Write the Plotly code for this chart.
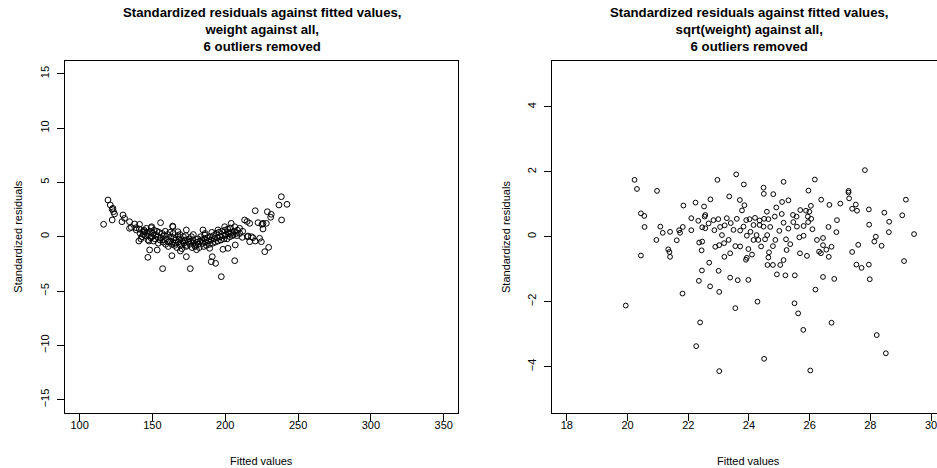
import plotly.graph_objects as go

W, H = 937, 468

# ---------------- data ----------------
left_fitted = [
    116.5, 119.5, 121.1, 122.4, 123.3, 124.0, 122.4, 122.9, 129.8, 130.9, 129.1, 134.3,
    137.8, 141.2, 134.3, 135.5, 138.9, 138.9, 141.0, 143.5, 144.6, 145.8, 149.2, 149.5,
    155.6, 163.9, 164.1, 167.5, 173.3, 140.7, 147.6, 148.1, 146.9, 153.3, 157.0, 163.4,
    169.2, 173.3, 176.0, 190.4, 193.4, 191.1, 197.3, 206.5, 198.4, 201.9, 206.9, 211.7,
    213.3, 215.0, 216.8, 220.6, 222.5, 225.9, 225.9, 228.9, 231.6, 231.2, 228.2, 238.5,
    236.9, 242.4, 238.7, 215.6, 219.0, 223.6, 224.8, 220.6, 227.1, 229.8, 204.1, 206.5,
    209.9, 199.6, 195.0, 184.7, 185.9, 215.2, 217.9, 216.8, 189.3, 225.2, 210.0, 212.0,
    208.0, 202.0, 200.0,
    141.6, 142.8, 142.1, 144.3, 143.7, 146.2, 145.4, 146.9, 148.5, 147.6, 148.9, 150.3, 149.6, 150.8, 151.2,
    152.4, 151.7, 153.1, 154.6, 153.8, 155.2, 154.1, 156.7, 155.9, 157.3, 158.2, 157.6, 159.1, 158.8,
    160.4, 159.7, 161.2, 160.9, 162.5, 161.8, 163.3, 162.1, 164.7, 163.9, 165.2, 164.3, 166.1, 165.6, 167.4, 166.8,
    168.3, 167.7, 169.1, 168.9, 170.6, 169.8, 171.3, 170.2, 172.4, 171.6, 173.1, 172.8, 174.5, 173.7, 175.2,
    176.3, 175.6, 177.2, 176.8, 178.4, 177.7, 179.3, 178.1, 180.6, 179.8, 181.2, 180.3, 182.7, 181.5, 183.1, 182.2,
    184.6, 183.8, 185.3, 186.4, 185.7, 187.1, 186.2, 188.5, 187.6, 189.2, 190.3, 189.7, 191.4, 190.8,
    192.5, 191.9, 193.3, 194.6, 193.8, 195.2, 196.4, 195.7, 197.1, 198.3, 197.6, 199.2, 200.5, 199.8, 201.3,
    202.6, 201.7, 203.2, 204.4, 203.6, 205.1, 206.3, 205.5, 208.4, 207.6,
]
left_resid = [
    1.14, 3.38, 2.92, 2.52, 2.30, 2.09, 1.54, 2.61, 2.00, 1.69, 1.38, 1.38,
    1.17, 1.14, 0.77, 0.85, 0.62, 0.83, 0.70, 0.46, 0.46, 0.77, 0.83, 0.92,
    1.29, 0.98, 0.92, 0.46, 0.62, -0.40, -0.40, -1.22, -1.90, -1.22, -2.94, -1.75,
    -1.32, -1.84, -2.94, -2.30, -2.45, -1.84, -3.68, -2.21, -1.16, -1.07, -0.76, -0.06,
    1.54, 1.40, 1.23, 2.39, 1.29, 1.23, 0.71, 2.30, 2.06, 1.79, 1.23, 3.68,
    2.92, 2.98, 1.54, 0.06, -0.09, -0.15, -0.46, -0.40, -1.38, -0.98, 1.23, 0.92,
    0.77, 0.92, 0.62, 0.62, 0.15, 0.00, 0.00, -0.46, -1.07, 1.14, 0.30, 0.50,
    0.10, 0.40, 0.10,
    0.3, 0.0, -0.2, 0.6, 0.2, 0.4, 0.1, -0.3, 0.5, 0.2, -0.1, 0.3, 0.0, -0.4, 0.6,
    0.2, -0.2, 0.5, 0.4, 0.0, -0.3, -0.6, 0.3, -0.1, -0.5, 0.1, -0.3, -0.7, 0.5,
    0.2, -0.2, -0.5, -0.9, 0.0, -0.4, -0.7, 0.4, -0.1, -0.5, -0.8, 0.3, -0.3, -0.6, 0.1, -1.0,
    -0.2, -0.5, -0.8, 0.2, -0.4, -0.7, 0.0, -1.1, -0.3, -0.6, -0.9, 0.1, -0.5, -0.8, -0.2,
    -0.4, -0.7, -1.0, 0.0, -0.6, -0.3, -0.9, 0.2, -0.5, -0.8, -0.2, -1.2, -0.4, -0.7, 0.0, -1.0,
    -0.6, -0.3, -0.9, -0.5, -0.2, -0.8, 0.3, -0.4, -0.1, -0.7, -0.3, 0.0, -0.6, 0.4,
    -0.2, 0.1, -0.5, -0.1, 0.3, -0.4, 0.0, 0.4, -0.3, 0.1, 0.5, -0.2, 0.2, 0.6, -0.2,
    0.3, 0.7, 0.0, 0.4, 0.8, 0.1, 0.5, 0.2, 0.6, 0.3,
]

right_fitted = [
    19.94, 20.23, 20.31, 20.97, 20.44, 20.55, 20.56, 20.44, 20.95, 21.08, 21.16, 21.40,
    21.62, 21.70, 21.73, 21.82, 21.84, 21.34, 21.38, 21.40, 22.10, 22.24, 22.33, 22.10,
    22.52, 22.73, 22.46, 22.54, 22.36, 22.46, 22.44, 22.69, 22.45, 22.96, 21.81, 22.35,
    22.72, 23.02, 22.39, 22.26, 23.02, 23.00, 23.38, 23.63, 23.98, 23.55, 24.28, 24.50,
    24.92, 25.20, 25.51, 25.50, 25.62, 25.79, 26.02, 26.19, 26.44, 26.81, 26.72, 27.71,
    27.98, 28.21, 28.51, 27.82, 23.58, 23.83, 25.14, 26.17, 24.48, 24.49, 24.80, 25.96,
    27.28, 27.28, 27.30, 23.35, 23.70, 23.85, 23.77, 25.09, 25.30, 26.38, 26.65, 27.01,
    27.40, 27.52, 27.56, 27.95, 28.46, 29.17, 29.05, 29.44, 28.62, 28.61, 28.18, 28.37,
    28.13, 27.96, 27.60, 27.40, 27.54, 27.95, 29.11, 26.90, 26.88, 26.62, 26.72, 26.55,
    26.63, 26.44, 26.44, 26.24, 26.09, 25.94, 25.99, 26.04, 25.88, 25.69, 25.57, 25.46,
    25.58, 25.80, 25.95, 26.05, 26.31, 26.37, 25.91, 25.68, 25.66, 25.80, 25.36, 25.22,
    25.24, 25.14, 25.03, 24.79, 24.64, 24.61, 24.66, 24.79, 24.87, 25.00, 25.14, 25.08,
    25.45, 24.85, 24.59, 24.64, 24.50, 24.35, 24.20, 24.02, 24.15, 24.35, 24.48, 23.91,
    23.82, 23.71, 23.93, 24.15, 24.31, 24.53, 23.98, 23.93, 23.90, 23.71, 23.55, 23.38,
    23.19, 23.49, 23.33, 23.18, 23.02, 22.89, 23.11, 23.27, 22.99, 22.83, 22.67, 22.56,
    22.56, 22.86, 23.05, 23.20, 24.05, 24.25, 24.40, 24.10, 23.40, 23.60, 24.70, 24.90,
    25.30, 24.60,
]
right_resid = [
    -2.12, 1.75, 1.47, 1.41, 0.72, 0.64, 0.30, -0.58, -0.10, 0.31, 0.12, 0.15,
    -0.11, 0.20, 0.12, 0.30, 0.96, -0.39, -0.47, -0.62, 0.20, 1.05, 0.49, 0.57,
    0.93, 1.15, 0.29, 0.62, -0.18, -0.15, -0.42, -0.80, -1.04, 1.75, -1.75, -1.36,
    -1.53, -1.70, -2.64, -3.37, -4.14, -1.05, -1.26, -1.34, -1.33, -2.20, -2.00, -3.76,
    -1.16, -1.19, -1.19, -2.05, -2.36, -2.87, -4.12, -1.63, -1.24, -1.30, -2.65, -0.96,
    -1.31, -3.03, -3.59, 2.05, 1.92, 1.61, 1.69, 1.76, 1.51, 1.32, 1.31, 1.42,
    1.41, 1.36, 1.18, 1.24, 1.13, 0.97, 0.81, 1.07, 1.12, 1.14, 0.98, 1.02,
    0.86, 0.99, 0.80, 0.84, 0.74, 1.14, 0.66, 0.08, 0.46, 0.14, 0.00, -0.28,
    -0.15, 0.37, -0.25, -0.47, -0.86, -0.86, -0.75, 0.51, 0.14, 0.30, -0.31, -0.40,
    -0.62, -0.04, -0.26, -0.10, 0.23, 0.62, 0.77, 0.95, 0.80, 0.82, 0.62, 0.45,
    0.31, 0.33, 0.45, 0.55, -0.46, -0.51, -0.59, -0.51, -0.02, 0.03, -0.23, -0.08,
    -0.41, -0.72, -0.87, -0.87, -0.64, -0.87, -0.48, -0.29, -0.10, 0.18, 0.43, 0.70,
    0.67, 0.62, 0.77, 0.54, 0.55, 0.50, 0.58, 0.54, 0.36, 0.36, 0.31, 0.51,
    0.31, 0.19, 0.03, -0.10, -0.10, -0.08, -0.38, -0.65, -0.71, -0.30, -0.29, -0.51,
    -0.62, 0.21, -0.10, -0.20, -0.26, -0.31, 0.05, 0.57, 0.54, 0.51, 0.41, 0.67,
    0.26, 0.20, 0.30, 0.35, 0.15, 0.05, -0.30, -0.55, 0.42, 0.55, 0.30, 0.90,
    0.25, 0.05,
]

left_xticks = [100, 150, 200, 250, 300, 350]
left_yticks = [-15, -10, -5, 0, 5, 10, 15]
right_xticks = [18, 20, 22, 24, 26, 28, 30]
right_yticks = [-4, -2, 0, 2, 4]

left_title = "Standardized residuals against fitted values,<br>weight against all,<br>6 outliers removed"
right_title = "Standardized residuals against fitted values,<br>sqrt(weight) against all,<br>6 outliers removed"
x_label = "Fitted values"
y_label = "Standardized residuals"

# ---------------- layout geometry (pixels) ----------------
L_X0, L_X1 = 65.0, 458.3
R_X0 = 552.3
Y_TOP, Y_BOT = 60.7, 412.7
R_PX_PER_UNIT = 30.35
R_XMIN = 17.52
R_XMAX = R_XMIN + (W - R_X0) / R_PX_PER_UNIT

def px(x):
    return x / W

def py(y):
    return 1 - y / H

FONT = "Liberation Sans, Arial, Helvetica, sans-serif"

fig = go.Figure()
fig.add_trace(go.Scatter(
    x=left_fitted, y=left_resid, mode="markers", xaxis="x", yaxis="y",
    marker=dict(symbol="circle-open", size=5.8, color="black", line=dict(width=1, color="black")),
    showlegend=False, hoverinfo="skip"))
fig.add_trace(go.Scatter(
    x=right_fitted, y=right_resid, mode="markers", xaxis="x2", yaxis="y2",
    marker=dict(symbol="circle-open", size=4.8, color="black", line=dict(width=1, color="black")),
    showlegend=False, hoverinfo="skip"))

axis_common = dict(showgrid=False, zeroline=False, showline=True, linecolor="black",
                   linewidth=1, ticks="outside", ticklen=7, tickwidth=1, tickcolor="black",
                   tickfont=dict(family=FONT, size=11, color="black"), fixedrange=True,
                   ticklabeloverflow="allow")

fig.update_layout(
    width=W, height=H,
    margin=dict(l=0, r=0, t=0, b=0, pad=0),
    paper_bgcolor="white", plot_bgcolor="white",
    font=dict(family=FONT, size=11, color="black"),
    xaxis=dict(domain=[px(L_X0), px(L_X1)], range=[90, 360], tickvals=left_xticks,
               mirror=True, anchor="y", ticklabelstandoff=-5, **axis_common),
    yaxis=dict(domain=[py(Y_BOT), py(Y_TOP)], range=[-16.2, 16.2], tickvals=left_yticks,
               tickangle=-90, mirror=True, anchor="x", ticklabelstandoff=4, **axis_common),
    xaxis2=dict(domain=[px(R_X0), 1.0], range=[R_XMIN, R_XMAX], tickvals=right_xticks,
                mirror=True, anchor="y2", ticklabelstandoff=-5, **axis_common),
    yaxis2=dict(domain=[py(Y_BOT), py(Y_TOP)], range=[-5.42, 5.42], tickvals=right_yticks,
                tickangle=-90, mirror=False, anchor="x2", ticklabelstandoff=4, **axis_common),
)

annots = []
for cx, title in [((L_X0 + L_X1) / 2, left_title), ((R_X0 + R_X0 + (L_X1 - L_X0)) / 2, right_title)]:
    annots.append(dict(x=px(cx), y=py(29.5), xref="paper", yref="paper",
                       text="<b>" + title.replace("<br>", "</b><br><b>") + "</b>",
                       showarrow=False, xanchor="center", yanchor="middle", align="center",
                       font=dict(family=FONT, size=13.2, color="black")))
    annots.append(dict(x=px(cx), y=py(461), xref="paper", yref="paper", text=x_label,
                       showarrow=False, xanchor="center", yanchor="middle",
                       font=dict(family=FONT, size=11, color="black")))
for ax0 in [L_X0, R_X0]:
    annots.append(dict(x=px(ax0 - 47), y=py((Y_TOP + Y_BOT) / 2), xref="paper", yref="paper",
                       text=y_label, textangle=-90, showarrow=False, xanchor="center",
                       yanchor="middle", font=dict(family=FONT, size=11, color="black")))
fig.update_layout(annotations=annots)

fig.write_html("out.html", config={"displayModeBar": False, "staticPlot": True},
               post_script="document.body.style.margin='0';document.body.style.overflow='hidden';")
